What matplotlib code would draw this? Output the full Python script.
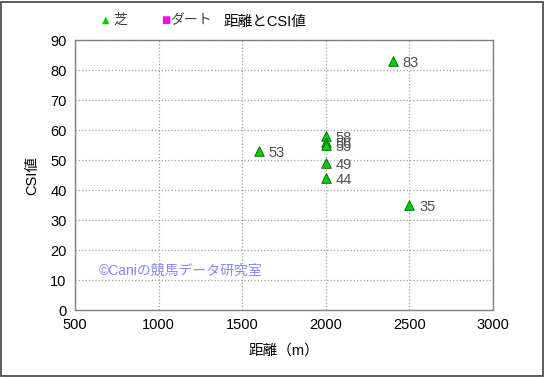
import matplotlib
matplotlib.use("Agg")
import matplotlib.pyplot as plt
from matplotlib.patches import Rectangle

plt.rcParams['font.family'] = ['Liberation Sans', 'Noto Sans CJK JP', 'DejaVu Sans']

# data
dist = [2000, 2000, 2000, 2000, 2000, 1600, 2400, 2500]
csi = [58, 56, 55, 49, 44, 53, 83, 35]
xticks = list(range(500, 3001, 500))
yticks = list(range(0, 91, 10))

fig = plt.figure(figsize=(5.45, 3.77), dpi=100)
ax = fig.add_axes([0.1376, 0.1777, 0.767, 0.716])

ax.scatter(dist, csi, marker='^', s=48, color='#00d000', edgecolors='#006000',
           linewidths=0.6, zorder=3)
for x, y in zip(dist, csi):
    ax.annotate(str(y), (x, y), xytext=(7, -4), textcoords='offset points',
                fontsize=10.5, color='#505050')

ax.set_xlim(500, 3000)
ax.set_ylim(0, 90)
ax.set_xticks(xticks)
ax.set_yticks(yticks)
ax.tick_params(length=0, labelsize=10.5, pad=6)
ax.grid(True, color='#a0a0a0', linestyle=':', linewidth=0.9)
for s in ax.spines.values():
    s.set_color('#808080')
    s.set_linewidth(1.0)

ax.set_xlabel('距離（m）', fontsize=10.5, labelpad=8)
ax.set_ylabel('CSI値', fontsize=10.5, labelpad=8)

fig.text(0.487, 0.942, '距離とCSI値', ha='center', va='center', fontsize=10.5)
fig.text(0.188, 0.948, '▲', ha='left', va='center', fontsize=7, color='#00d000',
         family=['DejaVu Sans'])
fig.text(0.207, 0.948, '芝', ha='left', va='center', fontsize=10, color='#404040')
fig.text(0.295, 0.948, '■', ha='left', va='center', fontsize=7, color='#ff00ff',
         family=['DejaVu Sans'])
fig.text(0.313, 0.948, 'ダート', ha='left', va='center', fontsize=10, color='#404040')

ax.text(0.058, 0.145, '©Caniの競馬データ研究室', transform=ax.transAxes,
        fontsize=10, color='#8888ee', ha='left', va='center')

fig.patches.append(Rectangle((0.002, 0.003), 0.995, 0.993, transform=fig.transFigure,
                             fill=False, edgecolor='#404040', linewidth=1.2))

fig.savefig('out.png', dpi=100)
